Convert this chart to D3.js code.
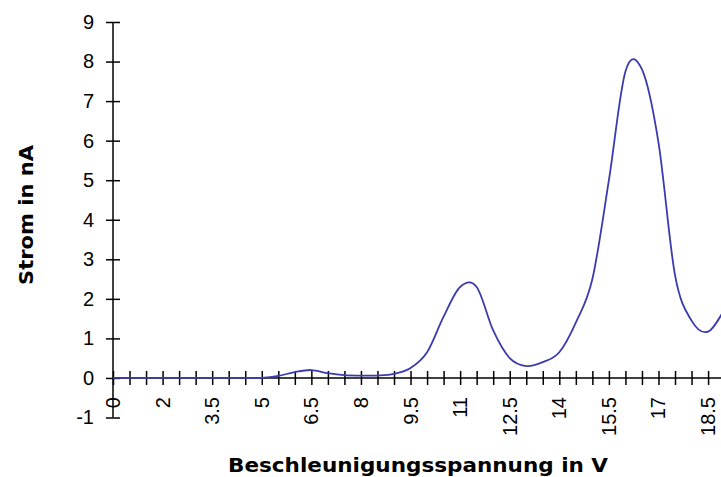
<!DOCTYPE html>
<html>
<head>
<meta charset="utf-8">
<script src="https://cdn.jsdelivr.net/npm/d3@7"></script>
<style>
  html, body { margin: 0; padding: 0; background: #fff; }
  svg { display: block; }
  text { font-family: "Liberation Sans", Arial, sans-serif; fill: #000; }
</style>
</head>
<body>
<svg id="chart" width="721" height="477"></svg>
<script>
// ---- data ----
const categories = ["0","1","1.5","2","2.5","3","3.5","4","4.5","5","5.5","6","6.5","7","7.5","8","8.5","9","9.5","10","10.5","11","11.5","12","12.5","13","13.5","14","14.5","15","15.5","16","16.5","17","17.5","18","18.5","19"];
const current = [0,0,0,0,0,0,0,0,0,0,0.05,0.15,0.2,0.12,0.07,0.06,0.06,0.1,0.25,0.65,1.55,2.3,2.3,1.2,0.5,0.3,0.4,0.65,1.4,2.5,5.0,7.75,7.8,5.95,2.6,1.45,1.17,1.75];
const yTickValues = [-1,0,1,2,3,4,5,6,7,8,9];
const xLabelEvery = 3;
const xTitle = "Beschleunigungsspannung in V";
const yTitle = "Strom in nA";

// ---- layout ----
const svg = d3.select("#chart");
const plotLeft = 113, plotTop = 22, plotBottom = 417.5;
const step = 16.53;

const x = d3.scalePoint()
  .domain(categories)
  .range([plotLeft, plotLeft + step * (categories.length - 1)]);
const y = d3.scaleLinear().domain([-1, 9]).range([plotBottom, plotTop]);

// y axis
const yAxis = svg.append("g").attr("transform", `translate(${plotLeft},0)`)
  .call(d3.axisLeft(y).tickValues(yTickValues).tickSize(7).tickPadding(12).tickFormat(d => String(d)));
yAxis.select(".domain").attr("stroke", "#000").attr("stroke-width", 1.5)
  .attr("d", `M0,${y(-1)}V${y(9)}`);
yAxis.selectAll(".tick line").attr("x1", -7).attr("x2", 7).attr("stroke", "#000").attr("stroke-width", 1.5);
yAxis.selectAll(".tick text").style("font-size", "20px").attr("fill", "#000");

// x axis at y=0
const xAxisG = svg.append("g").attr("transform", `translate(0,${y(0)})`)
  .call(d3.axisBottom(x).tickSize(7).tickFormat(""));
xAxisG.select(".domain").attr("stroke", "#000").attr("stroke-width", 1.5)
  .attr("d", `M${plotLeft},0H${plotLeft + step * (categories.length + 2)}`);
xAxisG.selectAll(".tick line").attr("y1", -7).attr("y2", 7).attr("stroke", "#000").attr("stroke-width", 1.5);

// x labels rotated
svg.append("g").selectAll("text")
  .data(categories.filter((d, i) => i % xLabelEvery === 0))
  .join("text")
  .attr("transform", d => `translate(${x(d)},397) rotate(-90)`)
  .attr("text-anchor", "end")
  .attr("dy", "0.35em")
  .style("font-size", "20px")
  .text(d => d);

// line
const line = d3.line()
  .x((d, i) => x(categories[i]))
  .y(d => y(d))
  .curve(d3.curveCatmullRom.alpha(0));
svg.append("path")
  .datum(current)
  .attr("fill", "none")
  .attr("stroke", "#3b3bb0")
  .attr("stroke-width", 1.8)
  .attr("d", line);

// titles
svg.append("text")
  .attr("transform", "translate(33,215) rotate(-90)")
  .attr("text-anchor", "middle")
  .style("font-family", "'DejaVu Sans', sans-serif")
  .style("font-size", "20px").style("font-weight", "bold")
  .attr("textLength", 140).attr("lengthAdjust", "spacingAndGlyphs")
  .text(yTitle);

svg.append("text")
  .attr("x", 418).attr("y", 472)
  .attr("text-anchor", "middle")
  .style("font-family", "'DejaVu Sans', sans-serif")
  .style("font-size", "20px").style("font-weight", "bold")
  .attr("textLength", 380).attr("lengthAdjust", "spacingAndGlyphs")
  .text(xTitle);
</script>
</body>
</html>
